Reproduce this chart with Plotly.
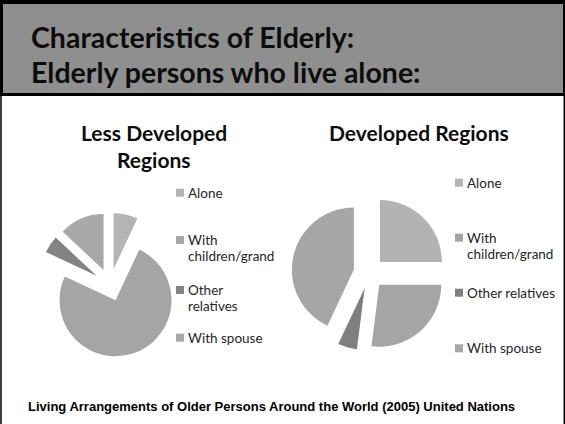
import plotly.graph_objects as go

# Living arrangements of older persons (percent of persons aged 60+)
categories = ["Alone", "With children/grand", "Other relatives", "With spouse"]
less_developed = [7, 75, 5, 13]
developed = [25, 27, 5, 43]

# Legend wording as laid out next to each pie
legend_less = ["Alone", "With<br>children/grand", "Other<br>relatives", "With spouse"]
legend_dev = ["Alone", "With<br>children/grand", "Other relatives", "With spouse"]

colors_less = ["#b4b4b4", "#a5a5a5", "#838383", "#a8a8a8"]
colors_dev = ["#b3b3b3", "#a5a5a5", "#7f7f7f", "#a6a6a6"]

W, H = 565, 424


def fx(x):
    return x / W


def fy(y):
    return 1 - y / H


def square_domain(cx, cy, size):
    half = size / 2
    return dict(x=[fx(cx - half), fx(cx + half)], y=[fy(cy + half), fy(cy - half)])


fig = go.Figure()

fig.add_trace(go.Pie(
    labels=categories, values=less_developed, sort=False, direction="clockwise",
    rotation=0, pull=[0.29] * 4, textinfo="none", showlegend=False,
    marker=dict(colors=colors_less, line=dict(width=0)),
    domain=square_domain(110, 285, 2 * 56 * 1.29),
    hoverinfo="label+percent", name="Less Developed Regions",
))
fig.add_trace(go.Pie(
    labels=categories, values=developed, sort=False, direction="clockwise",
    rotation=0, pull=[0.25] * 4, textinfo="none", showlegend=False,
    marker=dict(colors=colors_dev, line=dict(width=0)),
    domain=square_domain(369, 273, 2 * 62 * 1.25),
    hoverinfo="label+percent", name="Developed Regions",
))

shapes = [
    # slide frame and header band
    dict(type="rect", x0=fx(0), x1=fx(W), y0=fy(96), y1=fy(0),
         fillcolor="#000000", line=dict(width=0), layer="below"),
    dict(type="rect", x0=fx(3), x1=fx(563), y0=fy(93), y1=fy(4),
         fillcolor="#8f8f8f", line=dict(width=0), layer="below"),
    dict(type="line", x0=fx(1), x1=fx(1), y0=fy(96), y1=fy(H),
         line=dict(color="#000000", width=1.5)),
    dict(type="line", x0=fx(564.3), x1=fx(564.3), y0=fy(96), y1=fy(H),
         line=dict(color="#000000", width=1.5)),
]

title_font = dict(family="Lato", size=28.5, color="#0d0d0d")
chart_title_font = dict(family="Lato", size=21, color="#0d0d0d")

annotations = [
    dict(text="<b>Characteristics of Elderly:</b>", x=fx(29), y=fy(36.5),
         xanchor="left", yanchor="middle", showarrow=False, font=title_font),
    dict(text="<b>Elderly persons who live alone:</b>", x=fx(29), y=fy(72),
         xanchor="left", yanchor="middle", showarrow=False, font=title_font),
    dict(text="<b>Less Developed</b>", x=fx(154), y=fy(133),
         xanchor="center", yanchor="middle", showarrow=False, font=chart_title_font),
    dict(text="<b>Regions</b>", x=fx(154), y=fy(159),
         xanchor="center", yanchor="middle", showarrow=False, font=chart_title_font),
    dict(text="<b>Developed Regions</b>", x=fx(418.5), y=fy(133),
         xanchor="center", yanchor="middle", showarrow=False, font=chart_title_font),
    dict(text="<b>Living Arrangements of Older Persons Around the World (2005) United Nations</b>",
         x=fx(271.5), y=fy(406.5), xanchor="center", yanchor="middle", showarrow=False,
         font=dict(family="Liberation Sans, Arial", size=13, color="#000000")),
]

# Legend entries: square swatch plus label lines, placed beside each pie
legend_rows_less = [192.7, 240, 290, 337.7]
legend_rows_dev = [182.7, 237.7, 292.7, 348.3]
line_gap = 15.9
for texts, colors, rows, x0 in [
    (legend_less, colors_less, legend_rows_less, 176),
    (legend_dev, colors_dev, legend_rows_dev, 455),
]:
    for text, color, row in zip(texts, colors, rows):
        shapes.append(dict(type="rect", x0=fx(x0), x1=fx(x0 + 8), y0=fy(row + 4), y1=fy(row - 4),
                           fillcolor=color, line=dict(width=0)))
        for i, line in enumerate(text.split("<br>")):
            annotations.append(dict(text=line, x=fx(x0 + 10), y=fy(row + i * line_gap),
                                    xanchor="left", yanchor="middle", align="left",
                                    showarrow=False,
                                    font=dict(family="Lato", size=13.5, color="#262626")))

fig.update_layout(
    width=W, height=H, margin=dict(l=0, r=0, t=0, b=0),
    paper_bgcolor="#ffffff", plot_bgcolor="#ffffff",
    shapes=shapes, annotations=annotations, showlegend=False,
)

fig.write_html("out.html")
